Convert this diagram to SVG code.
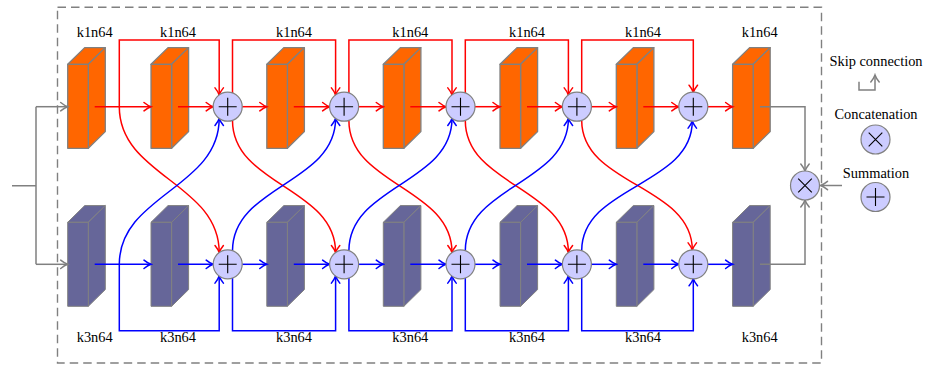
<svg xmlns="http://www.w3.org/2000/svg" width="934" height="366" viewBox="0 0 934 366">
<style>
.lbl{font-family:"Liberation Serif","Times New Roman",serif;font-size:14.4px;fill:#000;text-anchor:middle}
.or{fill:#ff6600;stroke:#808080;stroke-width:1.3;stroke-linejoin:round}
.pu{fill:#666699;stroke:#808080;stroke-width:1;stroke-linejoin:round}
.op{fill:#ccccff;stroke:#808080;stroke-width:1.2}
.sym{stroke:#000;stroke-width:1.1;fill:none}
.r{stroke:#ff0000;stroke-width:1.5;fill:none;marker-end:url(#ar)}
.b{stroke:#0000ff;stroke-width:1.5;fill:none;marker-end:url(#ab)}
.g{stroke:#808080;stroke-width:1.5;fill:none}
.ga{stroke:#808080;stroke-width:1.5;fill:none;marker-end:url(#ag)}
</style>
<defs>
<marker id="ar" viewBox="-9 -6 11 12" markerWidth="11" markerHeight="12" refX="0" refY="0" orient="auto" markerUnits="userSpaceOnUse"><path d="M-7,-4.2 Q-3,-1 0,0 Q-3,1 -7,4.2" fill="none" stroke="#ff0000" stroke-width="1.5" stroke-linecap="round"/></marker>
<marker id="ab" viewBox="-9 -6 11 12" markerWidth="11" markerHeight="12" refX="0" refY="0" orient="auto" markerUnits="userSpaceOnUse"><path d="M-7,-4.2 Q-3,-1 0,0 Q-3,1 -7,4.2" fill="none" stroke="#0000ff" stroke-width="1.5" stroke-linecap="round"/></marker>
<marker id="ag" viewBox="-9 -6 11 12" markerWidth="11" markerHeight="12" refX="0" refY="0" orient="auto" markerUnits="userSpaceOnUse"><path d="M-7,-4.2 Q-3,-1 0,0 Q-3,1 -7,4.2" fill="none" stroke="#808080" stroke-width="1.5" stroke-linecap="round"/></marker>
<g id="blk"><path d="M0,0 L17,-16.7 L37.6,-16.7 L20.6,0 Z"/><path d="M20.6,0 L37.6,-16.7 L37.6,67.3 L20.6,84 Z"/><rect x="0" y="0" width="20.6" height="84"/></g>
<g id="plus"><circle class="op" r="14.5"/><path class="sym" d="M-9,0 H9 M0,-9 V9"/></g>
<g id="times"><circle class="op" r="14.5"/><path class="sym" d="M-6.8,-6.8 L6.8,6.8 M-6.8,6.8 L6.8,-6.8"/></g>
</defs>

<rect id="frame" x="57.5" y="7.3" width="764" height="355.7" fill="none" stroke="#808080" stroke-width="1.4" stroke-dasharray="8.5,5"/>

<g id="top-blocks" class="or">
<use id="t1" href="#blk" x="67.7" y="64.3"/>
<use id="t2" href="#blk" x="151" y="64.3"/>
<use id="t3" href="#blk" x="266.8" y="64.3"/>
<use id="t4" href="#blk" x="383.3" y="64.3"/>
<use id="t5" href="#blk" x="500" y="64.3"/>
<use id="t6" href="#blk" x="616.3" y="64.3"/>
<use id="t7" href="#blk" x="732.6" y="64.3"/>
</g>
<g id="bottom-blocks" class="pu">
<use id="b1" href="#blk" x="67.7" y="222.3"/>
<use id="b2" href="#blk" x="151" y="222.3"/>
<use id="b3" href="#blk" x="266.8" y="222.3"/>
<use id="b4" href="#blk" x="383.3" y="222.3"/>
<use id="b5" href="#blk" x="500" y="222.3"/>
<use id="b6" href="#blk" x="616.3" y="222.3"/>
<use id="b7" href="#blk" x="732.6" y="222.3"/>
</g>

<g id="labels" class="lbl">
<text x="94.7" y="37.3">k1n64</text><text x="178" y="37.3">k1n64</text><text x="294" y="37.3">k1n64</text><text x="410.3" y="37.3">k1n64</text><text x="527" y="37.3">k1n64</text><text x="643" y="37.3">k1n64</text><text x="759.7" y="37.3">k1n64</text>
<text x="94.7" y="342.3">k3n64</text><text x="178" y="342.3">k3n64</text><text x="294" y="342.3">k3n64</text><text x="410.3" y="342.3">k3n64</text><text x="527" y="342.3">k3n64</text><text x="643" y="342.3">k3n64</text><text x="759.7" y="342.3">k3n64</text>
</g>

<g id="connectors">
<path class="g" d="M12,185.7 H36 M36,106.7 V264.3"/>
<path class="ga" d="M36,106.7 H67.7"/>
<path class="ga" d="M36,264.3 H67.7"/>
<path class="r" d="M94.7,106.7 H151"/>
<path class="r" d="M178,106.7 H213.2"/>
<path class="r" d="M242.2,106.7 H266.8"/>
<path class="r" d="M293.8,106.7 H329.6"/>
<path class="r" d="M358.6,106.7 H383.3"/>
<path class="r" d="M410.3,106.7 H446"/>
<path class="r" d="M475,106.7 H500"/>
<path class="r" d="M527,106.7 H562.4"/>
<path class="r" d="M591.4,106.7 H616.3"/>
<path class="r" d="M643.3,106.7 H678.8"/>
<path class="r" d="M707.8,106.7 H732.6"/>
<path class="b" d="M94.7,264.3 H151"/>
<path class="b" d="M178,264.3 H213.2"/>
<path class="b" d="M242.2,264.3 H266.8"/>
<path class="b" d="M293.8,264.3 H329.6"/>
<path class="b" d="M358.6,264.3 H383.3"/>
<path class="b" d="M410.3,264.3 H446"/>
<path class="b" d="M475,264.3 H500"/>
<path class="b" d="M527,264.3 H562.4"/>
<path class="b" d="M591.4,264.3 H616.3"/>
<path class="b" d="M643.3,264.3 H678.8"/>
<path class="b" d="M707.8,264.3 H732.6"/>
<path class="r" d="M119.3,106.7 V40 H219.2 V94.9"/>
<path class="r" d="M232.5,93 V40 H335.6 V94.9"/>
<path class="r" d="M348.9,93 V40 H452 V94.9"/>
<path class="r" d="M465.3,93 V40 H568.4 V94.9"/>
<path class="r" d="M581.7,93 V40 H693.3 V92.2"/>
<path class="b" d="M119.3,264.3 V330.7 H219.2 V276.1"/>
<path class="b" d="M232.5,278 V330.7 H335.6 V276.1"/>
<path class="b" d="M348.9,278 V330.7 H452 V276.1"/>
<path class="b" d="M465.3,278 V330.7 H568.4 V276.1"/>
<path class="b" d="M581.7,278 V330.7 H693.3 V278.8"/>
<path class="r" d="M119.3,106.7 C119.3,176 219.2,183 219.2,252.5"/>
<path class="r" d="M232.5,120.4 C232.5,185.4 335.6,187.5 335.6,252.5"/>
<path class="r" d="M348.9,120.4 C348.9,185.4 452,187.5 452,252.5"/>
<path class="r" d="M465.3,120.4 C465.3,185.4 568.4,187.5 568.4,252.5"/>
<path class="r" d="M581.7,120.4 C581.7,185.4 692.3,185 692.3,249.9"/>
<path class="b" d="M119.3,264.3 C119.3,195 219.2,188 219.2,118.5"/>
<path class="b" d="M232.5,250.6 C232.5,185.6 335.6,183.5 335.6,118.5"/>
<path class="b" d="M348.9,250.6 C348.9,185.6 452,183.5 452,118.5"/>
<path class="b" d="M465.3,250.6 C465.3,185.6 568.4,183.5 568.4,118.5"/>
<path class="b" d="M581.7,250.6 C581.7,185.6 692.3,186 692.3,121.1"/>
<path class="ga" d="M760,106.7 H805 V171"/>
<path class="ga" d="M760,264.3 H805 V200"/>
<path class="ga" d="M842,185.5 H820.5"/>
<path class="ga" d="M859,81.7 V90 H875 V75"/>
</g>

<g id="sum-top">
<use id="st1" href="#plus" x="227.7" y="106.7"/>
<use id="st2" href="#plus" x="344.1" y="106.7"/>
<use id="st3" href="#plus" x="460.5" y="106.7"/>
<use id="st4" href="#plus" x="576.9" y="106.7"/>
<use id="st5" href="#plus" x="693.3" y="106.7"/>
</g>
<g id="sum-bottom">
<use id="sb1" href="#plus" x="227.7" y="264.3"/>
<use id="sb2" href="#plus" x="344.1" y="264.3"/>
<use id="sb3" href="#plus" x="460.5" y="264.3"/>
<use id="sb4" href="#plus" x="576.9" y="264.3"/>
<use id="sb5" href="#plus" x="693.3" y="264.3"/>
</g>
<g id="concat"><use href="#times" x="805" y="185.5"/></g>

<g id="legend">
<text class="lbl" x="876" y="66.3">Skip connection</text>
<text class="lbl" x="876" y="118.5">Concatenation</text>
<use href="#times" x="875.5" y="139.5"/>
<text class="lbl" x="876" y="177.5">Summation</text>
<use href="#plus" x="875.5" y="197"/>
</g>
</svg>
